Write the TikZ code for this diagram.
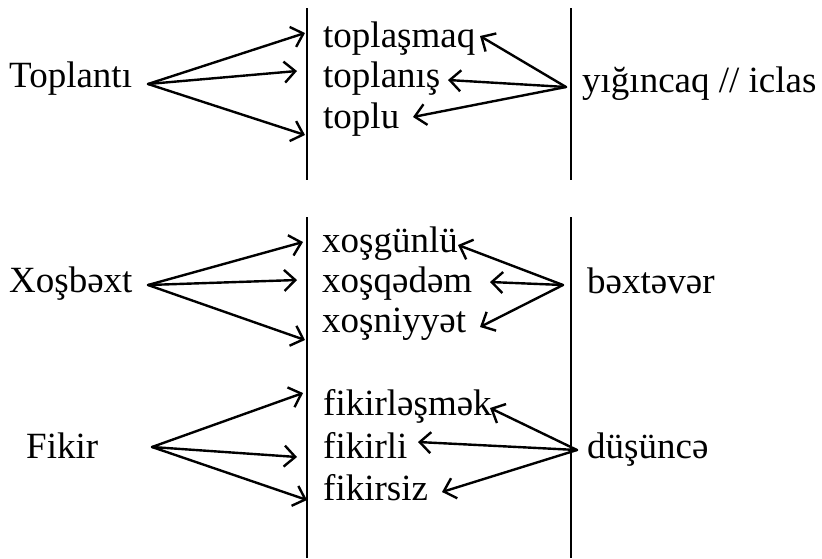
\documentclass[tikz,border=0pt]{standalone}
\usepackage{fontspec}
\setmainfont{Liberation Serif}
\usetikzlibrary{arrows.meta}
\begin{document}
\begin{tikzpicture}[x=1pt,y=-1pt,
  word/.style={anchor=base west, inner sep=0pt, font=\fontsize{37}{40}\selectfont},
  link/.style={line width=2.4pt, line cap=round, line join=round, -{Straight Barb[length=11pt,width=21pt,line width=2.4pt]}},
  divider/.style={line width=2.2pt}]
\useasboundingbox (0,0) rectangle (822,558);

% ---------- block 1 ----------
\coordinate (d1a) at (307,8);   \coordinate (d1b) at (307,180);
\coordinate (d2a) at (571,8);   \coordinate (d2b) at (571,180);
\draw[divider] (d1a) -- (d1b);
\draw[divider] (d2a) -- (d2b);

\node[word] (toplanti) at (9,87) {Toplantı};
\node[word] (toplasmaq) at (323,47) {toplaşmaq};
\node[word] (toplanis) at (323,87) {toplanış};
\node[word] (toplu) at (323,128) {toplu};
\node[word] (yigincaq) at (582,92) {yığıncaq // iclas};

\coordinate (aL1) at (148,84);
\coordinate (tL1a) at (305,33);
\coordinate (tL1b) at (297,71);
\coordinate (tL1c) at (305,135);
\draw[link] (aL1) -- (tL1a);
\draw[link] (aL1) -- (tL1b);
\draw[link] (aL1) -- (tL1c);

\coordinate (aR1) at (566,87);
\coordinate (tR1a) at (480,36);
\coordinate (tR1b) at (448,80);
\coordinate (tR1c) at (413,117);
\draw[link] (aR1) -- (tR1a);
\draw[link] (aR1) -- (tR1b);
\draw[link] (aR1) -- (tR1c);

% ---------- block 2 ----------
\coordinate (e1a) at (307,217); \coordinate (e1b) at (307,558);
\coordinate (e2a) at (571,217); \coordinate (e2b) at (571,558);
\draw[divider] (e1a) -- (e1b);
\draw[divider] (e2a) -- (e2b);

\node[word] (xosbext) at (9,292) {Xoşbəxt};
\node[word] (xosgunlu) at (322,252) {xoşgünlü};
\node[word] (xosqedem) at (322,292) {xoşqədəm};
\node[word] (xosniyyet) at (322,332) {xoşniyyət};
\node[word] (bextever) at (587,293) {bəxtəvər};

\coordinate (aL2) at (148,285);
\coordinate (tL2a) at (303,242);
\coordinate (tL2b) at (297,280);
\coordinate (tL2c) at (305,340);
\draw[link] (aL2) -- (tL2a);
\draw[link] (aL2) -- (tL2b);
\draw[link] (aL2) -- (tL2c);

\coordinate (aR2) at (563,285);
\coordinate (tR2a) at (458,245);
\coordinate (tR2b) at (490,282);
\coordinate (tR2c) at (480,327);
\draw[link] (aR2) -- (tR2a);
\draw[link] (aR2) -- (tR2b);
\draw[link] (aR2) -- (tR2c);

% ---------- block 3 ----------
\node[word] (fikir) at (26,458) {Fikir};
\node[word] (fikirlesmek) at (323,415) {fikirləşmək};
\node[word] (fikirli) at (323,458) {fikirli};
\node[word] (fikirsiz) at (323,500) {fikirsiz};
\node[word] (dusunce) at (587,458) {düşüncə};

\coordinate (aL3) at (152,447);
\coordinate (tL3a) at (303,393);
\coordinate (tL3b) at (297,457);
\coordinate (tL3c) at (307,500);
\draw[link] (aL3) -- (tL3a);
\draw[link] (aL3) -- (tL3b);
\draw[link] (aL3) -- (tL3c);

\coordinate (aR3) at (577,450);
\coordinate (tR3a) at (490,408);
\coordinate (tR3b) at (418,442);
\coordinate (tR3c) at (442,492);
\draw[link] (aR3) -- (tR3a);
\draw[link] (aR3) -- (tR3b);
\draw[link] (aR3) -- (tR3c);
\end{tikzpicture}
\end{document}
